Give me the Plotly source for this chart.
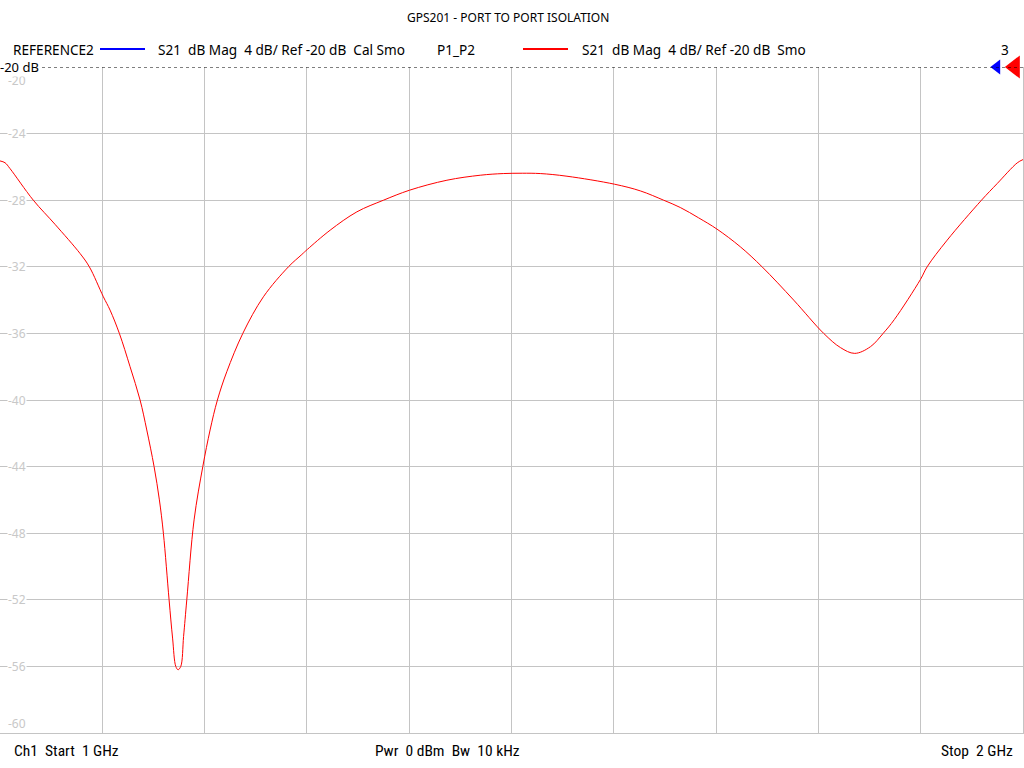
import plotly.graph_objects as go

# ---- data ----
x_px = [0, 5, 10, 33.3, 55, 80, 89.3, 103.3, 110, 119.3, 130, 140, 146.7, 154, 159.3, 163.3,
        169, 172.5, 175.7, 178, 180.7, 183.5, 186.7, 194, 202.7, 210, 217.3, 226.7, 242.7,
        263.3, 288.3, 301.7, 307.3, 330, 356.7, 383.3, 409.3, 446.7, 480, 503, 522, 540,
        566.7, 614.3, 640, 663.3, 680, 698.3, 716.7, 740, 761.7, 793.3, 823.3, 840, 854.3,
        870, 882.7, 894, 920, 926.7, 946.7, 981, 996.7, 1016.7, 1022.5]
s21_db = [-25.64, -25.75, -26.1, -28.0, -29.45, -31.2, -32.0, -33.8, -34.6, -36.0, -38.0,
          -40.0, -41.8, -44.0, -46.0, -48.0, -52.0, -54.3, -56.0, -56.2, -56.0, -54.2, -52.0,
          -47.2, -44.0, -41.8, -40.0, -38.3, -36.0, -33.8, -32.0, -31.26, -30.95, -29.8,
          -28.7, -28.0, -27.4, -26.8, -26.5, -26.4, -26.38, -26.4, -26.56, -27.04, -27.44,
          -28.0, -28.44, -29.06, -29.74, -30.8, -32.0, -34.0, -36.0, -36.85, -37.2, -36.8,
          -36.0, -35.16, -32.76, -32.0, -30.4, -28.0, -27.0, -25.76, -25.56]
freq_ghz = [1 + p / 1022.5 for p in x_px]

y_ticks = [-20, -24, -28, -32, -36, -40, -44, -48, -52, -56, -60]
y_tick_labels = [str(v) for v in y_ticks]
x_ticks = [1.0 + 0.1 * i for i in range(11)]

title_text = "GPS201 - PORT TO PORT ISOLATION"
bottom_left = "Ch1  Start  1 GHz"
bottom_mid = "Pwr  0 dBm  Bw  10 kHz"
bottom_right = "Stop  2 GHz"


def keep_spaces(s):
    return s.replace(" ", "\u00a0")


FONT = "Noto Sans"
GRID = "#c4c4c4"

fig = go.Figure()
fig.add_trace(go.Scatter(x=freq_ghz, y=s21_db, mode="lines",
                         line=dict(color="#ff0000", width=1, shape="spline", smoothing=1.0),
                         hoverinfo="skip", showlegend=False))

# reference markers at right edge
fig.add_trace(go.Scatter(x=[1.9745], y=[-20], mode="markers", cliponaxis=False,
                         marker=dict(symbol="triangle-left", size=13, color="#0000ff"),
                         showlegend=False, hoverinfo="skip"))
fig.add_trace(go.Scatter(x=[1.992], y=[-20], mode="markers", cliponaxis=False,
                         marker=dict(symbol="triangle-left", size=20, color="#ff0000"),
                         showlegend=False, hoverinfo="skip"))

fig.update_layout(
    width=1024, height=768,
    margin=dict(l=0, r=1, t=67, b=35),
    paper_bgcolor="white", plot_bgcolor="white",
    font=dict(family=FONT, size=12, color="black"),
    xaxis=dict(range=[1, 2], tickvals=x_ticks, showticklabels=False, showgrid=True,
               gridcolor=GRID, gridwidth=1, zeroline=False, showline=True,
               linecolor=GRID, mirror=False, ticks=""),
    yaxis=dict(range=[-60, -20], tickvals=y_ticks[1:], showticklabels=False, showgrid=True,
               gridcolor=GRID, gridwidth=1, zeroline=False, showline=True,
               linecolor=GRID, mirror=True, ticks=""),
)

# dotted reference line at -20 dB
fig.add_shape(type="line", xref="paper", x0=0, x1=1, yref="y", y0=-20, y1=-20,
              line=dict(color="black", width=1, dash="dot"))

# y tick labels (inside, light grey with white background)
for v, t in zip(y_ticks, y_tick_labels):
    if v == -20:
        anchor, shift = "top", 4
    elif v == -60:
        anchor, shift = "bottom", 0
    else:
        anchor, shift = "middle", 0
    fig.add_annotation(x=0, xref="paper", y=v, yref="y", text=t, showarrow=False,
                       xanchor="left", yanchor=anchor, xshift=7, yshift=-shift,
                       font=dict(family=FONT, size=12, color="#c8c8c8"),
                       bgcolor="white", borderpad=0)

# -20 dB label
fig.add_annotation(x=0, xref="paper", y=-20, yref="y", text=keep_spaces("-20 dB"),
                   showarrow=False, xanchor="left", yanchor="middle", xshift=-1,
                   font=dict(family=FONT, size=13, color="black"), bgcolor="white", borderpad=0)


def px_x(p):
    return p / 1023


def px_y(p):
    return 1 - (p - 67) / 666


# title
fig.add_annotation(x=px_x(508), y=px_y(18), xref="paper", yref="paper", text=title_text,
                   showarrow=False, xanchor="center", yanchor="middle",
                   font=dict(family=FONT, size=12))

header = [
    (12, "REFERENCE2"),
    (157, "S21  dB Mag  4 dB/ Ref -20 dB  Cal Smo"),
    (436, "P1_P2"),
    (581, "S21  dB Mag  4 dB/ Ref -20 dB  Smo"),
]
for xp, txt in header:
    fig.add_annotation(x=px_x(xp), y=px_y(50), xref="paper", yref="paper",
                       text=keep_spaces(txt), showarrow=False, xanchor="left",
                       yanchor="middle", xshift=-1,
                       font=dict(family=FONT, size=13.6, color="black"))
fig.add_annotation(x=px_x(1005), y=px_y(50), xref="paper", yref="paper", text="3",
                   showarrow=False, xanchor="center", yanchor="middle",
                   font=dict(family=FONT, size=13.6, color="black"))

fig.add_shape(type="line", xref="paper", yref="paper", x0=px_x(100), x1=px_x(145),
              y0=px_y(49), y1=px_y(49), line=dict(color="#0000ff", width=2))
fig.add_shape(type="line", xref="paper", yref="paper", x0=px_x(523), x1=px_x(568),
              y0=px_y(49), y1=px_y(49), line=dict(color="#ff0000", width=2))

NARROW = "Liberation Sans Narrow, Roboto Condensed, Liberation Sans"
for xp, txt, anc in [(12, bottom_left, "left"), (447, bottom_mid, "center"),
                     (1015, bottom_right, "right")]:
    fig.add_annotation(x=px_x(xp), y=px_y(751), xref="paper", yref="paper",
                       text=keep_spaces(txt), showarrow=False, xanchor=anc, yanchor="middle",
                       font=dict(family=NARROW, size=15.5, color="black"))

fig.write_html("out.html", config={"displayModeBar": False},
               post_script="document.body.style.margin='0';document.body.style.overflow='hidden';")
